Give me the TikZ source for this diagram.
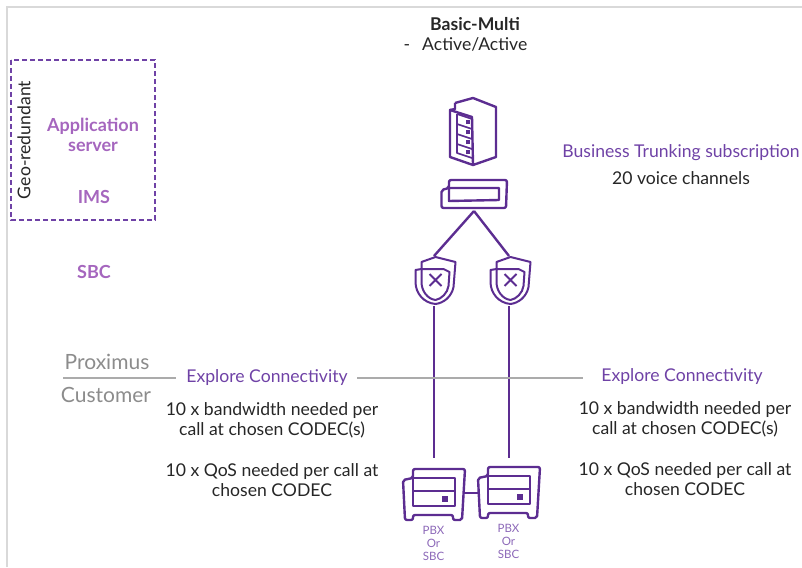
\documentclass[tikz,border=0pt]{standalone}
\usepackage{fontspec}
\setmainfont{Lato}
\definecolor{iconpurple}{HTML}{5C2D91}
\definecolor{textpurple}{HTML}{6F42A6}
\definecolor{lightpurple}{HTML}{A566BE}
\definecolor{framegray}{HTML}{D9D9D9}
\definecolor{linegray}{HTML}{ABABAB}
\definecolor{labelgray}{HTML}{8C8C8C}
\newcommand{\shieldicon}[1]{%
  \begin{scope}[shift={(#1)},icon,line width=2pt]
    \draw (-14,12) -- (-14,5) -- (0,0) -- (20,5) -- (18,30) .. controls (16,40) and (8,46) .. (0,47) .. controls (-12,46) and (-20,36) .. (-20,25) -- (-20,13) -- cycle;
    \draw (-14,12) -- (8,12) -- (14,15) -- (13,29) .. controls (12,36) and (6,42) .. (0,43) .. controls (-8,42) and (-14,34) .. (-14,25) -- cycle;
    \draw (-6,17) -- (6,29) (6,17) -- (-6,29);
  \end{scope}}
\newcommand{\pbxicon}[1]{%
  \begin{scope}[shift={(#1)},icon]
    \draw[rounded corners=2pt] (10,9) -- (10,0) -- (62,0) -- (59,51) -- (50,51) -- (50,46) -- (10,46) -- (10,51) -- (2,51) -- (0,11) -- cycle;
    \draw (10,9) rectangle (52,37) (10,22) -- (52,22);
    \fill[iconpurple] (39,27) rectangle (45,33);
  \end{scope}}
\begin{document}
\begin{tikzpicture}[x=1pt,y=-1pt,
    icon/.style={draw=iconpurple,line width=2.4pt,line join=round},
    iconbox/.style={inner sep=0pt,outer sep=0pt},
    link/.style={draw=iconpurple,line width=2.4pt},
    divider/.style={draw=linegray,line width=2.2pt},
    black text/.style={text=black!85,font=\fontsize{17.6}{20}\selectfont,align=center},
    explore/.style={text=textpurple,font=\fontsize{17.6}{20}\selectfont,align=center},
    layer/.style={text=lightpurple,font=\fontsize{18}{20}\selectfont\bfseries,align=center},
    side/.style={text=labelgray,font=\fontsize{21}{22}\selectfont},
    pbxlabel/.style={text=textpurple!80,font=\fontsize{11.5}{13}\selectfont,align=center}]
    \useasboundingbox (0,0) rectangle (802,567);
    % frame
    \draw[framegray,line width=2pt] (7,567) -- (7,7) -- (802,7);
    \draw[textpurple,line width=1.3pt,dash pattern=on 5pt off 3pt] (11,60) rectangle (155,220);

    \node[black text] (title) at (475,24) {\textbf{Basic-Multi}};
    \node[black text] (mode) at (465.5,44) {-\hspace{12pt}Active/Active};
    \node[black text,rotate=90] (geo) at (24,140) {Geo-redundant};
    \node[layer] (appserver) at (93,134.5) {Application\\server};
    \node[layer] (ims) at (94,197) {IMS};
    \node[layer] (sbc) at (94,272) {SBC};
    \node[explore] (trunking) at (681,153) {Business Trunking subscription};
    \node[black text] (channels) at (681,178) {20 voice channels};
    \node[side] (proximus) at (107,361.5) {Proximus};
    \node[side] (customer) at (106,394.5) {Customer};

    % icons
    \node[iconbox,minimum width=46pt,minimum height=67pt] (server) at (473,131) {};
    \begin{scope}[icon]
      \draw (455,103) -- (473,98) -- (496,107) -- (496,157) -- (473,165) -- (450,157) -- (450,110) -- (472,117) -- (473,165);
      \draw (450,110) -- (455,109) -- (455,103);
      \foreach \y in {0,1,2,3} {
        \draw[line width=1.6pt] (457,114+\y*10) -- (472,119+\y*10);
        \fill[iconpurple] (466,120+\y*10) rectangle (470,124+\y*10);
      }
      \draw[line width=1.6pt] (457,114) -- (457,153) -- (472,158);
    \end{scope}
    \node[iconbox,minimum width=66pt,minimum height=32pt] (hub) at (474,195) {};
    \draw[icon,rounded corners=2pt] (449,188) -- (449,180) -- (507,180) -- (506,208) -- (441.5,208) -- (441.5,190) -- cycle;
    \draw[icon] (449,188) -- (499,188) -- (499,200) -- (449,201) -- cycle;

    \node[iconbox,minimum width=40pt,minimum height=50pt] (shieldleft) at (434,281) {};
    \node[iconbox,minimum width=40pt,minimum height=50pt] (shieldright) at (509,281) {};
    \shieldicon{435.5,257}
    \shieldicon{510.5,257}

    \node[iconbox,minimum width=62pt,minimum height=70pt] (pbxleft) at (434,493) {};
    \node[iconbox,minimum width=62pt,minimum height=70pt] (pbxright) at (509,493) {};
    \pbxicon{403,469}
    \pbxicon{478,467}
    \node[pbxlabel] (pbxleftlabel) at (433.5,543) {PBX\\Or\\SBC};
    \node[pbxlabel] (pbxrightlabel) at (508.5,541) {PBX\\Or\\SBC};

    % connectors
    \draw[link] (hub.south) -- (shieldleft.north);
    \draw[link] (hub.south) -- (shieldright.north);
    \draw[link] (shieldleft.south) -- (pbxleft.north);
    \draw[link] (shieldright.south) -- (pbxright.north);
    \draw[link] (pbxleft.east) -- (pbxright.west);

    % demarcation
    \coordinate (dividerA) at (63,378);
    \coordinate (dividerB) at (176,378);
    \coordinate (dividerC) at (357,378);
    \coordinate (dividerD) at (583,378);
    \node[explore] (exploreleft) at (267,378) {Explore Connectivity};
    \node[explore] (exploreright) at (682,377) {Explore Connectivity};
    \draw[divider] (dividerA) -- (dividerB);
    \draw[divider] (dividerC) -- (dividerD);

    \node[black text] (bandleft) at (272,420.5) {10 x bandwidth needed per\\call at chosen CODEC(s)};
    \node[black text] (qosleft) at (272,480.5) {10 x QoS needed per call at\\chosen CODEC};
    \node[black text] (bandright) at (685,419.5) {10 x bandwidth needed per\\call at chosen CODEC(s)};
    \node[black text] (qosright) at (685,479.5) {10 x QoS needed per call at\\chosen CODEC};
\end{tikzpicture}
\end{document}
